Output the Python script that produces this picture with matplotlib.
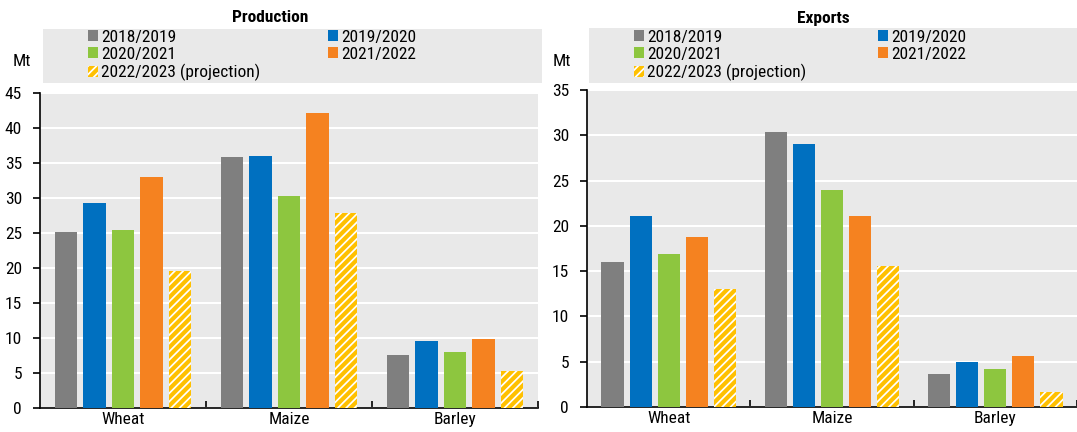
import numpy as np
import matplotlib.pyplot as plt
from matplotlib.patches import Rectangle, Patch

plt.rcParams['font.family'] = ['Roboto Condensed', 'Liberation Sans', 'DejaVu Sans']
plt.rcParams['hatch.linewidth'] = 3.0

crops = ["Wheat", "Maize", "Barley"]
seasons = ["2018/2019", "2019/2020", "2020/2021", "2021/2022", "2022/2023 (projection)"]
colors = ["#7F7F7F", "#0070C0", "#8DC63F", "#F58220", "#FFC000"]

production = [
    [25.1, 35.9, 7.6],
    [29.3, 36.0, 9.6],
    [25.4, 30.3, 8.0],
    [33.0, 42.1, 9.9],
    [19.6, 27.9, 5.3],
]
exports = [
    [16.0, 30.4, 3.6],
    [21.1, 29.0, 5.0],
    [16.9, 24.0, 4.2],
    [18.8, 21.1, 5.6],
    [13.0, 15.6, 1.7],
]

BG = "#E9E9E9"
W, H = 1077, 432
FS = 12.5
fig = plt.figure(figsize=(W / 100, H / 100), dpi=100)


def px(x0, y0, x1, y1):
    # pixel box (top-left origin) -> figure fraction rect
    return [x0 / W, 1 - y1 / H, (x1 - x0) / W, (y1 - y0) / H]


def panel(ax_box, leg_box, cols_x, title, title_x, mt_x, data, ymax):
    ax = fig.add_axes(px(*ax_box))
    ax.set_facecolor(BG)
    x = np.arange(len(crops))
    pitch, width = 0.172, 0.135
    for i, vals in enumerate(data):
        pos = x + (i - 2) * pitch
        if i == 4:
            ax.bar(pos, vals, width, facecolor="white", edgecolor=colors[i],
                   hatch="////", linewidth=0, zorder=3)
        else:
            ax.bar(pos, vals, width, color=colors[i], linewidth=0, zorder=3)
    ax.set_xlim(-0.5, 2.5)
    ax.set_ylim(0, ymax)
    ax.set_yticks(np.arange(0, ymax + 1, 5))
    ax.yaxis.grid(True, color="white", linewidth=1.5, zorder=1)
    ax.set_axisbelow(True)
    ax.set_xticks(x)
    ax.set_xticklabels(crops)
    ax.set_xticks([0.5, 1.5, 2.5], minor=True)
    ax.tick_params(axis="x", which="major", length=0, labelsize=FS, pad=3)
    ax.tick_params(axis="x", which="minor", direction="in", length=5, width=1.2)
    ax.tick_params(axis="y", direction="out", length=5, width=1.2, labelsize=FS, pad=8)
    for s in ("top", "right"):
        ax.spines[s].set_visible(False)
    for s in ("left", "bottom"):
        ax.spines[s].set_linewidth(1.2)

    # legend band
    lb = px(*leg_box)
    fig.patches.append(Rectangle(lb[:2], lb[2], lb[3], transform=fig.transFigure,
                                 facecolor=BG, edgecolor="none", zorder=0))
    handles = [Patch(facecolor=c, linewidth=0) for c in colors[:4]]
    handles.append(Patch(facecolor="white", edgecolor=colors[4], hatch="////", linewidth=0))
    for cx, idx in zip(cols_x, ([0, 2, 4], [1, 3])):
        fig.legend([handles[k] for k in idx], [seasons[k] for k in idx],
                   loc="upper left", bbox_to_anchor=(cx / W, 1 - 30 / H),
                   frameon=False, fontsize=FS, handlelength=0.6,
                   handleheight=0.6, handletextpad=0.15, labelspacing=0.12,
                   borderaxespad=0, borderpad=0)
    fig.text(title_x / W, 1 - 18 / H, title, ha="center", va="center",
             fontsize=FS, fontweight="bold")
    fig.text(mt_x / W, 1 - 62 / H, "Mt", ha="center", va="center", fontsize=FS)
    return ax


panel((40, 93, 538, 408), (43, 29, 542, 83), (88, 328), "Production", 270, 22,
      production, 45)
panel((587, 90, 1077, 407), (589, 28, 1077, 83), (634, 878), "Exports", 823, 562,
      exports, 35)

fig.savefig("out.png", dpi=100)
